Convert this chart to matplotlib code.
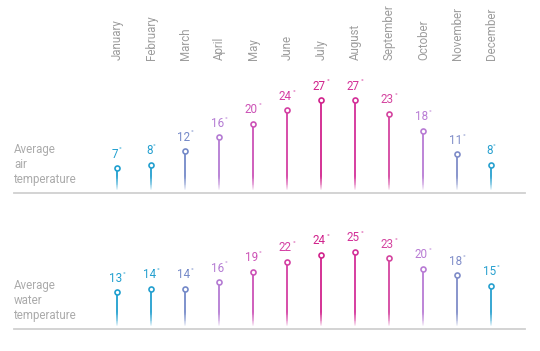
import numpy as np
import matplotlib
matplotlib.use('Agg')
import matplotlib.pyplot as plt
from matplotlib.colors import to_rgba
from matplotlib.collections import LineCollection

plt.rcParams['font.family'] = ['Roboto', 'DejaVu Sans']

# Data
months = ['January', 'February', 'March', 'April', 'May', 'June', 'July',
          'August', 'September', 'October', 'November', 'December']
air_temp = [7, 8, 12, 16, 20, 24, 27, 27, 23, 18, 11, 8]
water_temp = [13, 14, 14, 16, 19, 22, 24, 25, 23, 20, 18, 15]
month_colors = ['#1f9fcf', '#239fcf', '#7489c8', '#b47bd3', '#cc52b6', '#d43fa3',
                '#d1228c', '#d32f98', '#d4449f', '#b87bd4', '#7f8cc8', '#27a0cf']
row_labels = ['Average\nair\ntemperature', 'Average\nwater\ntemperature']

W, H = 540, 351
fig = plt.figure(figsize=(W / 100, H / 100), dpi=100)


def px_axes(left, top, right, bottom):
    return fig.add_axes([left / W, 1 - bottom / H, (right - left) / W, (bottom - top) / H])


x = np.arange(len(months))
xlim = ((14 - 117) / 34, (525 - 117) / 34)
grid_color = '#d0d0d0'
text_gray = '#ababab'


def draw_panel(ax, values, ymin, ymax, label, label_y):
    ax.set_xlim(*xlim)
    ax.set_ylim(ymin, ymax)
    ax.axis('off')
    ax.axhline(ymin, color=grid_color, lw=1.3, clip_on=False)
    stem_start = ymin + 1.0
    fade = 4.0
    for xi, v, c in zip(x, values, month_colors):
        # fading part of the stem near the baseline
        n = 16
        ys = np.linspace(stem_start, stem_start + fade, n + 1)
        segs = [[(xi, ys[k]), (xi, ys[k + 1])] for k in range(n)]
        cols = [to_rgba(c, ((k + 0.5) / n) ** 0.7) for k in range(n)]
        ax.add_collection(LineCollection(segs, colors=cols, linewidths=1.3))
        ax.plot([xi, xi], [stem_start + fade, v], color=c, lw=1.3, solid_capstyle='butt')
        ax.plot(xi, v, 'o', ms=3.6, mfc='white', mec=c, mew=1.2)
        t = ax.annotate(f'{v}', (xi, v), xytext=(-1.3, 7.5), textcoords='offset points',
                        ha='center', va='baseline', color=c, fontsize=8.4)
        ax.annotate('°', xy=(1, 1), xycoords=t, xytext=(0.4, 0.0), textcoords='offset points',
                    ha='left', va='top', color=c, fontsize=5.5)
    fig.text(14 / W, 1 - label_y / H, label, ha='left', va='center',
             color=text_gray, fontsize=8.3, linespacing=1.2)


ax1 = px_axes(14, 60, 525, 193)
draw_panel(ax1, air_temp, (191.8 - 193) / 3.4, (191.8 - 60) / 3.4, row_labels[0], 165)

ax2 = px_axes(14, 200, 525, 329)
draw_panel(ax2, water_temp, (336.5 - 329) / 3.4, (336.5 - 200) / 3.4, row_labels[1], 301)

# month names along the top
for xi, m in zip(x, months):
    xf = (117.5 + 34 * xi) / W
    fig.text(xf, 1 - 60 / H, m, rotation=90, ha='center', va='bottom',
             color='#9d9d9d', fontsize=8.3)

fig.savefig('out.png', dpi=100)
